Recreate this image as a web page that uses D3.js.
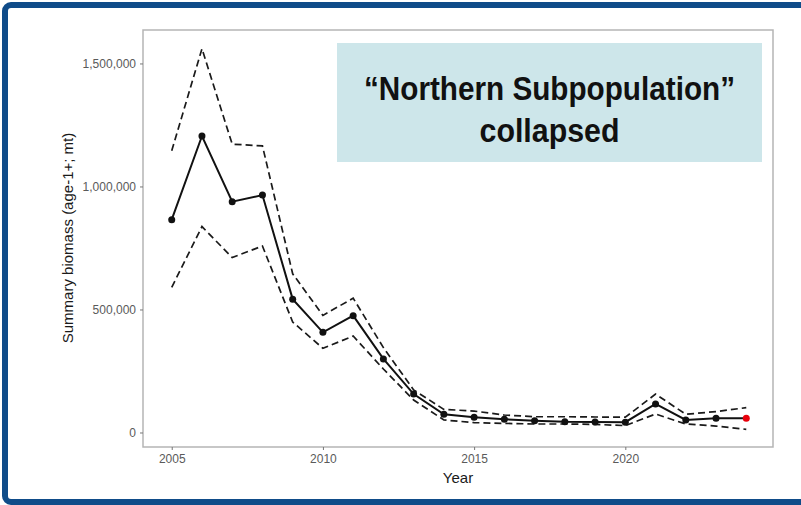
<!DOCTYPE html>
<html>
<head>
<meta charset="utf-8">
<script src="https://cdn.jsdelivr.net/npm/d3@7"></script>
<style>
  html, body { margin: 0; padding: 0; background: #ffffff; }
  svg { display: block; font-family: "Liberation Sans", Arial, sans-serif; }
</style>
</head>
<body>
<svg id="chart" width="801" height="505"></svg>
<script>
// Summary biomass (age-1+, mt) by year with upper / lower interval bounds
const years = [2005, 2006, 2007, 2008, 2009, 2010, 2011, 2012, 2013, 2014,
               2015, 2016, 2017, 2018, 2019, 2020, 2021, 2022, 2023, 2024];
const biomass = [865000, 1205000, 938000, 965000, 542000, 407000, 475000, 299000, 156000, 74000,
                 62000, 54000, 48000, 44000, 43000, 42000, 116000, 51000, 58000, 58000];
const upper = [1145000, 1560000, 1172000, 1165000, 645000, 476000, 546000, 345000, 173000, 94000,
               87000, 71000, 64000, 64000, 63000, 62000, 156000, 74000, 85000, 101000];
const lower = [590000, 837000, 711000, 758000, 449000, 342000, 392000, 258000, 132000, 51000,
               40000, 37000, 34500, 34500, 33000, 28000, 75000, 34500, 26000, 13000];
const xTicks = [2005, 2010, 2015, 2020];
const yTicks = [0, 500000, 1000000, 1500000];
const noteLines = ["\u201CNorthern Subpopulation\u201D", "collapsed"];

const svg = d3.select("#chart");

// outer slide frame
svg.append("rect")
  .attr("x", 5).attr("y", 5).attr("width", 810).attr("height", 497)
  .attr("rx", 6)
  .attr("fill", "none").attr("stroke", "#0f4c89").attr("stroke-width", 6);

const panel = { left: 143, right: 773, top: 30, bottom: 447 };

const x = d3.scaleLinear().domain([2004.05, 2024.95]).range([panel.left, 775]);
const y = d3.scaleLinear().domain([-59000, 1636000]).range([panel.bottom, panel.top]);

// panel border
svg.append("rect")
  .attr("x", panel.left).attr("y", panel.top)
  .attr("width", panel.right - panel.left).attr("height", panel.bottom - panel.top)
  .attr("fill", "#ffffff").attr("stroke", "#b5b5b5").attr("stroke-width", 1.5);

// axes
const yAxis = d3.axisLeft(y).tickValues(yTicks).tickSize(3).tickPadding(4)
  .tickFormat(d3.format(","));
const gy = svg.append("g").attr("transform", `translate(${panel.left},0)`).call(yAxis);
gy.select(".domain").remove();
gy.selectAll(".tick line").attr("stroke", "#777");
gy.selectAll(".tick text").attr("fill", "#5a5a5a").style("font-size", "12px");

const xAxis = d3.axisBottom(x).tickValues(xTicks).tickSize(3).tickPadding(4)
  .tickFormat(d3.format("d"));
const gx = svg.append("g").attr("transform", `translate(0,${panel.bottom})`).call(xAxis);
gx.select(".domain").remove();
gx.selectAll(".tick line").attr("stroke", "#777");
gx.selectAll(".tick text").attr("fill", "#5a5a5a").style("font-size", "12px");

// axis titles
svg.append("text")
  .attr("x", (panel.left + panel.right) / 2).attr("y", 482.5)
  .attr("text-anchor", "middle").attr("fill", "#1a1a1a")
  .style("font-size", "15px").text("Year");

svg.append("text")
  .attr("transform", "translate(73,238) rotate(-90)")
  .attr("text-anchor", "middle").attr("fill", "#1a1a1a")
  .style("font-size", "15px").text("Summary biomass (age-1+; mt)");

// annotation box
svg.append("rect")
  .attr("x", 337).attr("y", 43).attr("width", 425).attr("height", 119)
  .attr("fill", "#cde6ea");
const noteY = [99.5, 141.5];
const noteW = [371, 140];
noteLines.forEach((t, i) => {
  svg.append("text")
    .attr("x", 549.5).attr("y", noteY[i])
    .attr("text-anchor", "middle")
    .attr("textLength", noteW[i]).attr("lengthAdjust", "spacingAndGlyphs")
    .attr("fill", "#111")
    .style("font-size", "33px").style("font-weight", "bold")
    .text(t);
});

// series
const mkLine = vals => d3.line()
  .x((d, i) => x(years[i]))
  .y(d => y(d))(vals);

[upper, lower].forEach(vals => {
  svg.append("path")
    .attr("d", mkLine(vals))
    .attr("fill", "none").attr("stroke", "#1a1a1a")
    .attr("stroke-width", 1.7).attr("stroke-dasharray", "7,4");
});

svg.append("path")
  .attr("d", mkLine(biomass))
  .attr("fill", "none").attr("stroke", "#111").attr("stroke-width", 2);

svg.selectAll("circle.pt")
  .data(biomass)
  .join("circle")
  .attr("class", "pt")
  .attr("cx", (d, i) => x(years[i]))
  .attr("cy", d => y(d))
  .attr("r", 3.5)
  .attr("fill", (d, i) => i === biomass.length - 1 ? "#e8000b" : "#111");
</script>
</body>
</html>
